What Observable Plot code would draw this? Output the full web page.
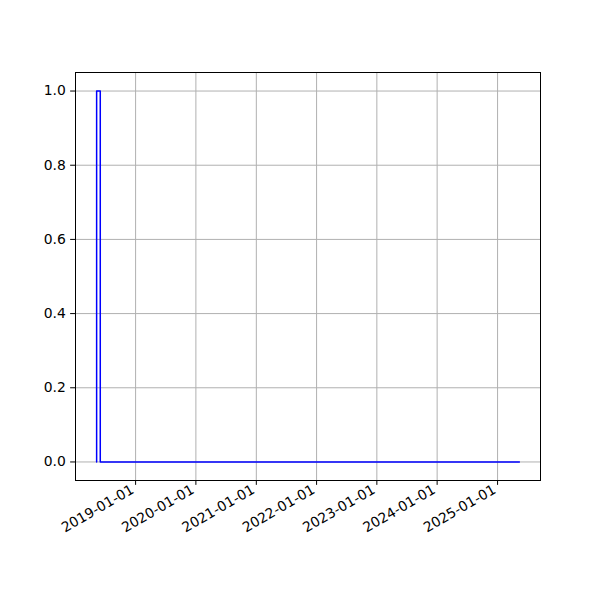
<!DOCTYPE html>
<html><head><meta charset="utf-8">
<script src="https://cdn.jsdelivr.net/npm/d3@7"></script>
<script src="https://cdn.jsdelivr.net/npm/@observablehq/plot@0.6"></script>
<style>
body{margin:0;background:#fff;}
#chart svg{display:block;}
</style>
</head><body><div id="chart"></div>
<script>
const dates = ["2018-05-10", "2018-06-01", "2025-05-13"];
const values = [0, 1, 0];
const xTicks = ["2019-01-01","2020-01-01","2021-01-01","2022-01-01","2023-01-01","2024-01-01","2025-01-01"];
const yTicks = [0, 0.2, 0.4, 0.6, 0.8, 1.0];

const data = dates.map((d, i) => ({date: new Date(d + "T00:00:00Z"), value: values[i]}));
const tX = xTicks.map(d => new Date(d + "T00:00:00Z"));
const t0 = +data[0].date, t1 = +data[data.length - 1].date;
const pad = (t1 - t0) * 0.05;

const fontPx = 13.9;
const plot = Plot.plot({
  width: 600, height: 600,
  marginLeft: 75, marginRight: 60, marginTop: 72, marginBottom: 120,
  style: {fontFamily: "DejaVu Sans", fontSize: fontPx + "px", color: "#000", background: "#fff"},
  x: {type: "utc", domain: [new Date(t0 - pad), new Date(t1 + pad)]},
  y: {domain: [-0.05, 1.05]},
  marks: [
    Plot.gridX(tX, {stroke: "#b0b0b0", strokeOpacity: 1, strokeWidth: 1}),
    Plot.gridY(yTicks, {stroke: "#b0b0b0", strokeOpacity: 1, strokeWidth: 1}),
    Plot.line(data, {x: "date", y: "value", curve: "step-before", stroke: "#0000ff", strokeWidth: 1.5}),
    Plot.axisX(tX, {tickSize: 4.86, label: null, stroke: "#000", text: null}),
    Plot.axisX(tX, {tickFormat: d3.utcFormat("%Y-%m-%d"), tickRotate: -30, tickSize: 0, tickPadding: 4, dx: -3, dy: 4, label: null, fill: "#000", fontSize: fontPx}),
    Plot.axisY(yTicks, {tickFormat: d3.format(".1f"), tickSize: 4.86, tickPadding: 4.86, label: null, stroke: "#000", fill: "#000", fontSize: fontPx}),
    Plot.frame({stroke: "#000", strokeWidth: 1})
  ]
});
document.getElementById("chart").appendChild(plot);
</script>
</body></html>
